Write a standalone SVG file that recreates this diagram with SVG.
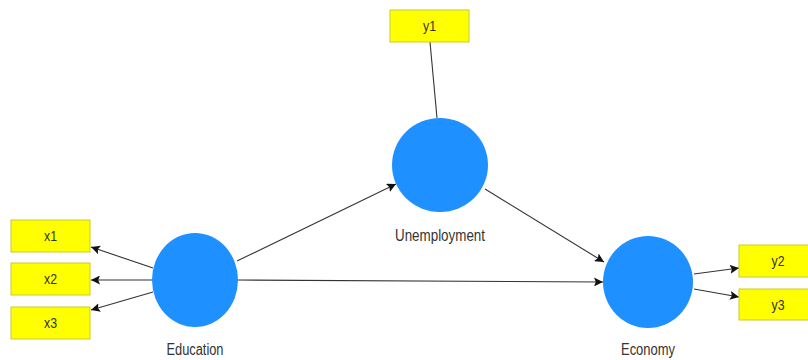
<svg xmlns="http://www.w3.org/2000/svg" width="808" height="360" viewBox="0 0 808 360">
<style>
.box{fill:#ffff00;stroke:#c9c930;stroke-width:1}
.lv{fill:#1e90ff}
.bt{font-family:"Liberation Sans",Arial,sans-serif;font-size:15px;fill:#333;text-anchor:middle}
.lt{font-family:"Liberation Sans",Arial,sans-serif;font-size:16px;fill:#333;text-anchor:middle}
.e{stroke:#333;stroke-width:1.1;fill:none}
.a{marker-end:url(#ah)}
</style>
<defs>
<marker id="ah" viewBox="0 0 10 10" refX="10" refY="5" markerWidth="9" markerHeight="9" markerUnits="userSpaceOnUse" orient="auto">
<path d="M0,0 L10,5 L0,10 L2,5 z" fill="#111"/>
</marker>
</defs>
<rect width="808" height="360" fill="#fff"/>
<g id="connectors">
<line class="e" x1="430" y1="42" x2="437" y2="118"/>
<line class="e a" x1="153" y1="268" x2="91" y2="247"/>
<line class="e a" x1="153" y1="280" x2="91" y2="280"/>
<line class="e a" x1="153" y1="292" x2="91" y2="310"/>
<line class="e a" x1="237" y1="261" x2="396" y2="184"/>
<line class="e a" x1="238" y1="280" x2="603" y2="282"/>
<line class="e a" x1="485" y1="189" x2="604" y2="262"/>
<line class="e a" x1="694" y1="274" x2="739" y2="268"/>
<line class="e a" x1="694" y1="289" x2="739" y2="297"/>
</g>
<g id="y1"><rect class="box" x="390" y="10" width="79" height="32"/><text class="bt" x="429.5" y="31" textLength="13" lengthAdjust="spacingAndGlyphs">y1</text></g>
<g id="x1"><rect class="box" x="11" y="220" width="79" height="32"/><text class="bt" x="50.5" y="241" textLength="13" lengthAdjust="spacingAndGlyphs">x1</text></g>
<g id="x2"><rect class="box" x="11" y="263" width="79" height="32"/><text class="bt" x="50.5" y="284" textLength="13" lengthAdjust="spacingAndGlyphs">x2</text></g>
<g id="x3"><rect class="box" x="11" y="307" width="79" height="32"/><text class="bt" x="50.5" y="328" textLength="13" lengthAdjust="spacingAndGlyphs">x3</text></g>
<g id="y2"><rect class="box" x="739" y="245" width="79" height="32"/><text class="bt" x="778" y="266" textLength="13" lengthAdjust="spacingAndGlyphs">y2</text></g>
<g id="y3"><rect class="box" x="739" y="289" width="79" height="31"/><text class="bt" x="778" y="310" textLength="13" lengthAdjust="spacingAndGlyphs">y3</text></g>
<g id="Education"><ellipse class="lv" cx="195" cy="280" rx="43" ry="47"/><text class="lt" x="195" y="355" textLength="57" lengthAdjust="spacingAndGlyphs">Education</text></g>
<g id="Unemployment"><ellipse class="lv" cx="440" cy="165" rx="48" ry="47"/><text class="lt" x="440" y="241" textLength="90" lengthAdjust="spacingAndGlyphs">Unemployment</text></g>
<g id="Economy"><ellipse class="lv" cx="648" cy="282" rx="45" ry="46"/><text class="lt" x="648" y="355" textLength="54" lengthAdjust="spacingAndGlyphs">Economy</text></g>
</svg>
